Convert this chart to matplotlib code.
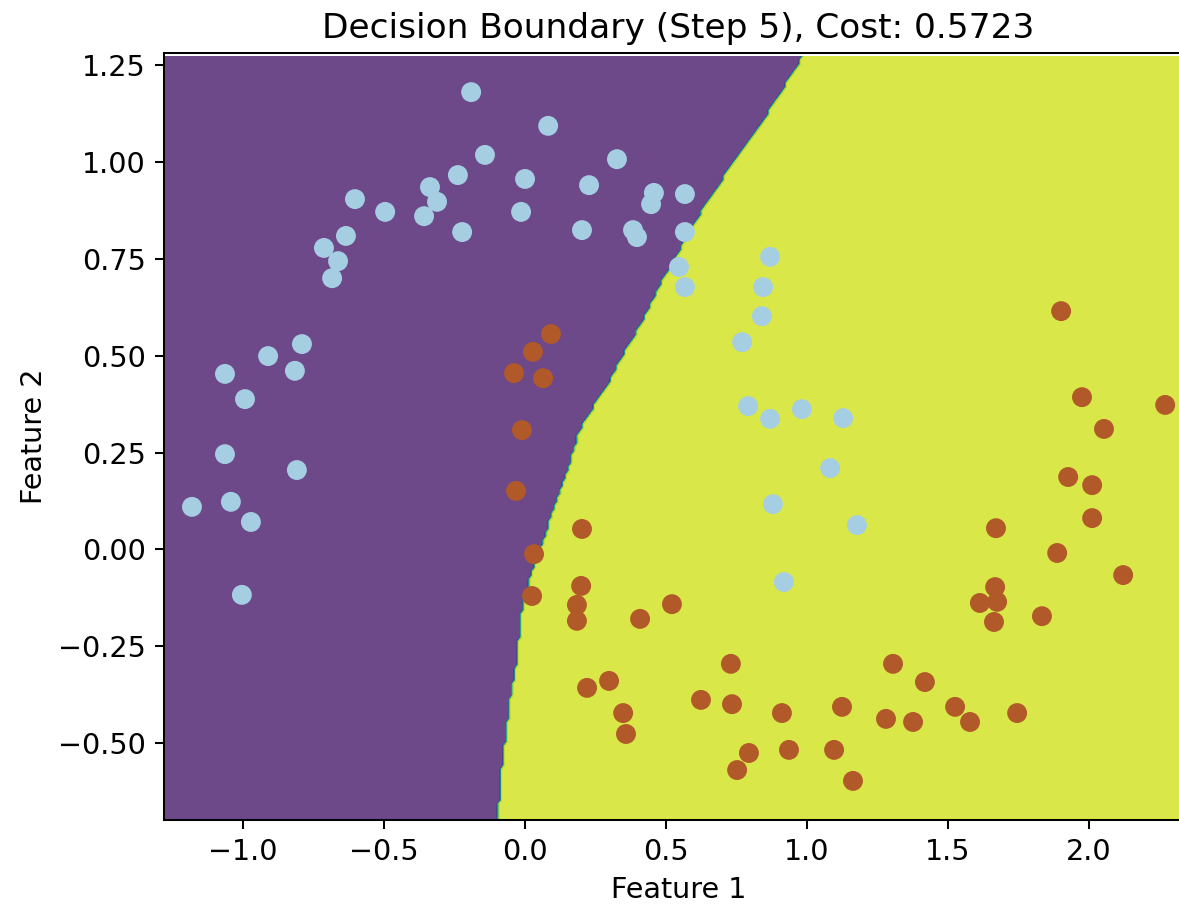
import numpy as np
import matplotlib
matplotlib.use("Agg")
import matplotlib.pyplot as plt

plt.rcParams["font.size"] = 11.2

# --- moons data ---
x0 = [-0.191, 0.082, -0.142, 0.326, -0.238, 0.000, 0.227, -0.337, -0.312, 0.457,
      0.447, 0.567, -0.603, -0.496, -0.358, -0.014, -0.223, 0.202, 0.383, 0.397,
      0.567, -0.635, -0.713, -0.663, -0.684, 0.546, 0.567, 0.869, 0.844, 0.840,
      0.770, -0.791, -0.911, -0.816, -1.064, -0.993, -1.064, -0.809, -1.181, -1.043,
      -0.972, -1.004, 0.791, 0.869, 0.982, 1.128, 1.082, 0.879, 1.177, 0.918]
y0 = [1.180, 1.093, 1.018, 1.007, 0.966, 0.956, 0.940, 0.935, 0.897, 0.920,
      0.891, 0.917, 0.904, 0.871, 0.860, 0.871, 0.819, 0.824, 0.824, 0.806,
      0.819, 0.809, 0.778, 0.744, 0.700, 0.729, 0.677, 0.755, 0.677, 0.602,
      0.535, 0.530, 0.499, 0.461, 0.453, 0.388, 0.246, 0.205, 0.110, 0.123,
      0.071, -0.117, 0.370, 0.337, 0.362, 0.339, 0.210, 0.117, 0.063, -0.084]

x1 = [0.092, 0.028, -0.039, 0.064, -0.011, -0.032, 0.202, 0.032, 0.199, 0.025,
      0.184, 0.184, 0.408, 0.298, 0.220, 0.348, 0.358, 0.521, 0.730, 0.624,
      0.734, 0.911, 0.794, 0.752, 0.936, 1.124, 1.096, 1.163, 1.305, 1.418,
      1.280, 1.376, 1.525, 1.578, 1.745, 1.901, 1.975, 2.053, 2.270, 1.926,
      2.011, 2.011, 1.670, 1.887, 2.121, 1.667, 1.613, 1.674, 1.663, 1.833]
y1 = [0.556, 0.510, 0.455, 0.442, 0.308, 0.151, 0.053, -0.012, -0.094, -0.120,
      -0.143, -0.184, -0.179, -0.339, -0.357, -0.422, -0.476, -0.141, -0.295, -0.388,
      -0.399, -0.422, -0.525, -0.569, -0.517, -0.406, -0.517, -0.597, -0.295, -0.342,
      -0.437, -0.445, -0.406, -0.445, -0.422, 0.615, 0.393, 0.311, 0.373, 0.187,
      0.166, 0.081, 0.055, -0.009, -0.066, -0.097, -0.138, -0.135, -0.187, -0.172]

# decision boundary of the model at step 5 (x where class flips, per y)
boundary_y = [-0.75, -0.697, -0.548, -0.400, -0.289, -0.142, -0.057, 0.003, 0.072, 0.142,
              0.220, 0.305, 0.338, 0.434, 0.519, 0.607, 0.692, 0.909, 1.113, 1.268, 1.35]
boundary_x = [-0.104, -0.097, -0.079, -0.054, -0.029, -0.008, 0.027, 0.059, 0.087, 0.123,
              0.158, 0.194, 0.218, 0.300, 0.363, 0.431, 0.487, 0.657, 0.852, 0.983, 1.03]

X = np.column_stack([x0 + x1, y0 + y1])
y = np.array([0] * len(x0) + [1] * len(x1))

x_min, x_max = X[:, 0].min() - 0.1, X[:, 0].max() + 0.1
y_min, y_max = X[:, 1].min() - 0.1, X[:, 1].max() + 0.1
h = 0.01
xx, yy = np.meshgrid(np.arange(x_min, x_max, h), np.arange(y_min, y_max, h))
Z = (xx > np.interp(yy, boundary_y, boundary_x)).astype(float)

fig = plt.figure(figsize=(1179 / 184, 906 / 184), dpi=184)
ax = fig.add_axes([0.1389, 0.0953, 0.8733, 0.8458])
ax.contourf(xx, yy, Z, alpha=0.8)
ax.scatter(X[:, 0], X[:, 1], c=y, cmap=plt.cm.Paired, s=46)
ax.set_xlim(x_min, x_max)
ax.set_ylim(y_min, y_max)
ax.set_title("Decision Boundary (Step 5), Cost: 0.5723")
ax.set_xlabel("Feature 1")
ax.set_ylabel("Feature 2")
fig.savefig("out.png", dpi=184)
